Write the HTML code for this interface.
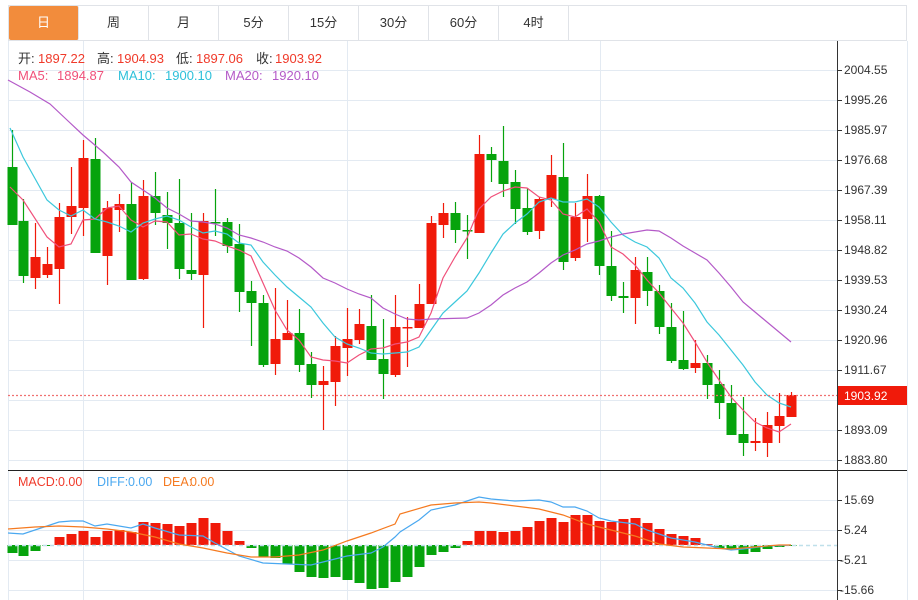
<!DOCTYPE html>
<html><head><meta charset="utf-8"><style>
body{margin:0;background:#fff;width:918px;height:600px;overflow:hidden;font-family:"Liberation Sans","Noto Sans CJK SC",sans-serif}
.tabs{position:absolute;left:8px;top:5px;height:36px;width:899px;border:1px solid #e0e3e8;box-sizing:border-box;display:flex}
.tab{width:70px;height:34px;line-height:34px;text-align:center;font-size:13px;color:#333;border-right:1px solid #e0e3e8;box-sizing:border-box}
.tab.on{background:#f28c3c;color:#fff;border-radius:2px}
svg{position:absolute;left:0;top:0}
</style></head><body>
<div class="tabs"><div class="tab on">日</div><div class="tab">周</div><div class="tab">月</div><div class="tab">5分</div><div class="tab">15分</div><div class="tab">30分</div><div class="tab">60分</div><div class="tab">4时</div></div>
<svg id="s" width="918" height="600" xmlns="http://www.w3.org/2000/svg" font-family="Liberation Sans, Noto Sans CJK SC, sans-serif"></svg>
<script>
var s=document.getElementById('s'),h='';
function L(x1,y1,x2,y2,c,w,extra){h+='<line x1="'+x1+'" y1="'+y1+'" x2="'+x2+'" y2="'+y2+'" stroke="'+c+'" stroke-width="'+(w||1)+'" '+(extra||'')+'/>';}
function T(x,y,t,c,sz,a){h+='<text x="'+x+'" y="'+y+'" fill="'+c+'" font-size="'+(sz||12)+'" '+(a||'')+'>'+t+'</text>';}
for(var y=70;y<=460;y+=30)L(8,y+.5,837,y+.5,'#e3eaf2');
[500,530,560,590].forEach(function(y){L(8,y+.5,837,y+.5,'#e3eaf2');});
[83,347,600].forEach(function(x){L(x+.5,41,x+.5,600,'#e3eaf2');});
L(8.5,41,8.5,600,'#e3eaf2');L(907.5,41,907.5,600,'#e3eaf2');
L(8,470.5,907,470.5,'#222');
L(837.5,41,837.5,600,'#333');
var pl=['2004.55','1995.26','1985.97','1976.68','1967.39','1958.11','1948.82','1939.53','1930.24','1920.96','1911.67','1902.38','1893.09','1883.80'];
pl.forEach(function(t,i){var y=70+i*30;L(837,y+.5,842,y+.5,'#333');if(i!=11)T(844,y+4,t,'#333',12);});
[['15.69',500],['5.24',530],['-5.21',560],['-15.66',590]].forEach(function(a){L(837,a[1]+.5,842,a[1]+.5,'#333');T(a[0][0]=='-'?840:844,a[1]+4,a[0],'#333',12);});
var C=[[12,167,225,130,225,0],[23,221,276,199,283,0],[35,278,257,223,289,1],[47,275,264,247,278,1],[59,269,217,203,304,1],[71,217,206,167,234,1],[83,208,158,140,236,1],[95,159,253,138,253,0],[107,256,208,201,285,1],[119,210,204,194,232,1],[131,204,280,182,280,0],[143,279,196,180,280,1],[155,196,213,172,225,0],[167,215,223,192,249,0],[179,223,269,179,279,0],[191,270,274,213,280,0],[203,275,221,213,328,1],[215,222,223,189,236,0],[227,222,246,218,253,0],[239,244,292,224,312,0],[251,291,303,281,346,0],[263,303,365,295,367,0],[275,364,339,288,375,1],[287,340,333,300,340,1],[299,333,365,309,372,0],[311,364,385,352,398,0],[323,385,381,366,430,1],[335,382,346,336,406,1],[347,348,339,308,376,1],[359,340,324,309,344,1],[371,326,360,295,360,0],[383,359,374,319,399,0],[395,375,327,295,377,1],[407,328,327,317,367,1],[419,328,304,284,328,1],[431,304,223,216,304,1],[443,225,213,203,238,1],[455,213,230,202,243,0],[467,230,231,215,259,0],[479,233,154,135,233,1],[491,154,160,147,182,0],[503,161,184,126,197,0],[515,182,209,170,224,0],[527,208,232,188,235,0],[539,231,199,197,239,1],[551,199,175,155,207,1],[563,177,262,143,270,0],[575,258,217,203,261,1],[587,219,196,174,242,1],[599,196,266,195,275,0],[611,266,296,231,301,0],[623,296,298,282,313,0],[635,298,270,257,324,1],[647,272,291,257,306,0],[659,291,327,285,334,0],[671,327,361,303,363,0],[683,360,369,311,370,0],[695,368,363,340,373,1],[707,363,385,355,399,0],[719,384,403,370,419,0],[731,403,435,385,435,0],[743,434,443,397,456,0],[755,443,441,418,451,1],[767,443,425,412,457,1],[779,426,416,393,443,1],[791,417,395,392,417,1]];
C.forEach(function(c){var col=c[5]?'#f01a0a':'#06a30c';L(c[0]+.5,c[3],c[0]+.5,c[4],col,1.2);var t=Math.min(c[1],c[2]),b=Math.max(c[1],c[2]);h+='<rect x="'+(c[0]-4.5)+'" y="'+t+'" width="10" height="'+Math.max(b-t,1.5)+'" fill="'+col+'"/>';});
function P(pts,c){h+='<polyline fill="none" stroke="'+c+'" stroke-width="1.2" points="'+pts.map(function(p){return p.join(',')}).join(' ')+'"/>';}
P([[10,187],[23,200],[47,237],[59,247],[71,244],[83,220],[95,219],[107,208],[119,206],[131,220],[143,227],[155,221],[167,222],[179,235],[191,234],[203,239],[215,241],[227,246],[239,250],[251,256],[263,283],[275,310],[287,330],[299,340],[311,357],[323,360],[335,361],[347,363],[359,355],[371,349],[383,348],[395,344],[407,342],[419,337],[431,313],[443,278],[455,257],[467,238],[479,209],[491,197],[503,191],[515,187],[527,188],[539,197],[551,200],[563,214],[575,217],[587,209],[599,222],[611,247],[623,254],[635,265],[647,280],[659,293],[671,308],[683,323],[695,342],[707,362],[719,380],[731,397],[743,410],[755,422],[767,428],[779,432],[791,424]],'#f0507a');
P([[10,128],[23,157],[47,200],[59,210],[71,216],[83,210],[95,219],[107,222],[119,226],[131,232],[143,223],[155,219],[167,216],[179,220],[191,227],[203,233],[215,231],[227,234],[239,243],[251,245],[263,262],[275,275],[287,287],[299,297],[311,307],[323,323],[335,337],[347,344],[359,348],[371,353],[383,354],[395,353],[407,352],[419,347],[431,330],[443,313],[455,302],[467,291],[479,273],[491,253],[503,234],[515,223],[527,214],[539,202],[551,198],[563,202],[575,202],[587,199],[599,207],[611,222],[623,235],[635,242],[647,247],[659,258],[671,278],[683,288],[695,303],[707,322],[719,335],[731,350],[743,365],[755,382],[767,395],[779,403],[791,407]],'#3cc8dc');
P([[8,80],[30,92],[50,104],[67,120],[83,135],[103,152],[119,167],[131,182],[143,190],[155,198],[167,208],[179,214],[191,221],[203,222],[215,224],[227,228],[239,235],[251,238],[263,242],[275,247],[287,251],[299,258],[311,267],[323,278],[335,283],[347,289],[359,294],[371,298],[383,308],[395,314],[407,319],[419,320],[431,319],[467,318],[479,313],[491,305],[503,295],[515,288],[527,282],[539,273],[551,263],[563,255],[575,250],[587,244],[599,241],[611,237],[623,234],[635,232],[647,230],[659,231],[671,238],[683,246],[695,253],[707,260],[719,273],[731,287],[743,302],[755,312],[767,322],[779,332],[791,342]],'#b45ac8');
L(8,395.5,837,395.5,'#f07070',1.2,'stroke-dasharray="2,2"');
h+='<rect x="838" y="386" width="69" height="19" fill="#f01a0a"/>';T(844,400,'1903.92','#fff',12);
var M=[[12,553],[23,556],[35,551],[47,546],[59,537],[71,534],[83,531],[95,537],[107,531],[119,530],[131,532],[143,522],[155,523],[167,524],[179,526],[191,523],[203,518],[215,523],[227,531],[239,541],[251,548],[263,557],[275,558],[287,564],[299,572],[311,577],[323,578],[335,577],[347,580],[359,583],[371,589],[383,588],[395,582],[407,577],[419,567],[431,555],[443,552],[455,548],[467,541],[479,531],[491,531],[503,532],[515,531],[527,527],[539,521],[551,518],[563,522],[575,515],[587,515],[599,521],[611,522],[623,519],[635,518],[647,523],[659,529],[671,534],[683,536],[695,538],[707,544],[719,548],[731,549],[743,554],[755,552],[767,549],[779,547],[791,546]];
M.forEach(function(m){var z=545,t=Math.min(z,m[1]),b=Math.max(z,m[1]);h+='<rect x="'+(m[0]-4.5)+'" y="'+t+'" width="10" height="'+(b-t)+'" fill="'+(m[1]<z?'#f01a0a':'#06a30c')+'"/>';});
L(8,545.5,837,545.5,'#bfe0ea',1.5,'stroke-dasharray="4,3"');
P([[8,533],[23,534],[59,522],[71,521],[83,521],[95,526],[107,524],[131,528],[143,524],[155,528],[179,535],[203,536],[215,543],[239,556],[263,563],[287,564],[311,565],[323,562],[347,556],[371,553],[383,547],[395,537],[400,532],[419,520],[431,510],[455,505],[479,497],[491,499],[515,501],[539,500],[551,502],[563,507],[575,507],[587,511],[599,518],[611,521],[635,524],[647,530],[659,534],[671,538],[695,542],[707,545],[719,548],[731,550],[743,549],[767,546],[791,545]],'#4aa8f0');
P([[8,529],[35,527],[59,526],[83,527],[107,529],[131,532],[155,537],[179,544],[203,548],[227,553],[251,557],[275,557],[299,555],[323,550],[347,541],[371,533],[395,524],[400,514],[431,505],[455,503],[479,502],[491,503],[515,506],[539,509],[563,515],[587,524],[611,530],[635,536],[659,544],[683,547],[707,548],[731,549],[755,547],[779,545],[791,545]],'#f57a20');
var R='#f03a2a',K='#333';
[[18,'开:',K],[38,'1897.22',R],[97,'高:',K],[117,'1904.93',R],[176,'低:',K],[196,'1897.06',R],[256,'收:',K],[275,'1903.92',R]].forEach(function(a){T(a[0],63,a[1],a[2],13);});
[[18,'MA5:','#f0507a'],[57,'1894.87','#f0507a'],[118,'MA10:','#2ec0da'],[165,'1900.10','#2ec0da'],[225,'MA20:','#b45ac8'],[272,'1920.10','#b45ac8']].forEach(function(a){T(a[0],80,a[1],a[2],13);});
[[18,'MACD:',R],[58,'0.00',R],[97,'DIFF:','#4aa8f0'],[128,'0.00','#4aa8f0'],[163,'DEA:','#f57a20'],[190,'0.00','#f57a20']].forEach(function(a){T(a[0],486,a[1],a[2],12.5);});
s.innerHTML=h;
</script>
</body></html>
